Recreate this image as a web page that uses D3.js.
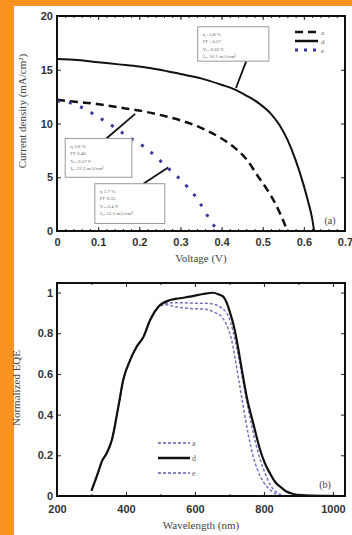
<!DOCTYPE html>
<html>
<head>
<meta charset="utf-8">
<script src="https://cdn.jsdelivr.net/npm/d3@7"></script>
<style>
  body { margin: 0; background: #f7931e; }
  svg { display: block; }
  .tick text { font-family: "Liberation Sans", Arial, sans-serif; font-weight: bold; font-size: 11px; fill: #333; }
  .title { font-family: "Liberation Serif", "Times New Roman", serif; font-size: 11px; fill: #444; }
  .note { font-family: "Liberation Serif", serif; font-size: 5px; fill: #666; }
</style>
</head>
<body>
<svg id="chart" width="352" height="535"></svg>
<script>
// panel (a): J-V curves
const vSolid = [0, 0.05, 0.1, 0.15, 0.2, 0.25, 0.3, 0.35, 0.4, 0.43, 0.46, 0.49, 0.52, 0.54, 0.56, 0.58, 0.6, 0.61, 0.62, 0.625];
const jSolid = [16.0, 15.9, 15.7, 15.5, 15.3, 15.0, 14.6, 14.2, 13.6, 13.2, 12.6, 11.9, 10.9, 9.9, 8.5, 6.6, 4.2, 2.8, 1.2, 0];
const vDash = [0, 0.05, 0.1, 0.15, 0.2, 0.25, 0.3, 0.35, 0.4, 0.43, 0.46, 0.49, 0.51, 0.53, 0.545, 0.56];
const jDash = [12.2, 12.0, 11.8, 11.5, 11.2, 10.8, 10.3, 9.6, 8.6, 7.8, 6.7, 5.0, 3.9, 2.6, 1.4, 0];
const vDot = [0, 0.035, 0.07, 0.1, 0.128, 0.156, 0.184, 0.213, 0.241, 0.265, 0.289, 0.317, 0.337, 0.357, 0.374, 0.39];
const jDot = [12.1, 11.9, 11.3, 10.6, 9.95, 9.2, 8.5, 7.8, 6.9, 6.0, 5.2, 4.1, 3.2, 2.0, 0.9, 0.1];
const legendA = ["a", "d", "e"];

// panel (b): normalized EQE
const wSolid = [300, 320, 330, 344, 359, 378, 392, 412, 431, 450, 470, 494, 528, 556, 586, 624, 653, 670, 682, 692, 702, 712, 721, 736, 750, 769, 789, 803, 818, 832, 847, 865, 885, 910, 943, 980, 1020];
const eSolid = [0.026, 0.12, 0.17, 0.21, 0.275, 0.44, 0.57, 0.668, 0.734, 0.78, 0.865, 0.93, 0.963, 0.972, 0.98, 0.993, 0.999, 0.99, 0.98, 0.95, 0.9, 0.84, 0.767, 0.62, 0.488, 0.357, 0.226, 0.16, 0.11, 0.07, 0.046, 0.022, 0.01, 0.004, 0.002, 0.001, 0];
const wA = [300, 320, 330, 344, 359, 378, 392, 412, 431, 450, 470, 494, 520, 556, 595, 634, 660, 680, 692, 702, 716, 728, 740, 752, 764, 776, 790, 805, 820, 835, 850, 866];
const eA = [0.026, 0.12, 0.17, 0.21, 0.275, 0.44, 0.57, 0.668, 0.734, 0.78, 0.865, 0.93, 0.948, 0.95, 0.948, 0.947, 0.94, 0.92, 0.9, 0.86, 0.77, 0.67, 0.56, 0.45, 0.35, 0.26, 0.175, 0.105, 0.05, 0.02, 0.006, 0];
const wE = [300, 320, 330, 344, 359, 378, 392, 412, 431, 450, 470, 494, 515, 545, 586, 634, 660, 673, 687, 697, 706, 716, 726, 736, 746, 756, 768, 782, 798, 815, 832, 850];
const eE = [0.026, 0.12, 0.17, 0.21, 0.275, 0.44, 0.57, 0.668, 0.734, 0.78, 0.865, 0.93, 0.94, 0.93, 0.922, 0.917, 0.9, 0.889, 0.857, 0.82, 0.77, 0.68, 0.58, 0.48, 0.38, 0.29, 0.2, 0.125, 0.07, 0.035, 0.012, 0];
const legendB = ["a", "d", "e"];

const notes = [
  { lines: ["\u03b7 : 5.8 %", "FF : 0.57", "V\u2092\u2092 0.63 V", "J\u209b\u2092 16.1 mA/cm\u00b2"], box: [0.342, 19.0, 0.515, 15.8], from: [0.46, 15.8], to: [0.435, 13.3] },
  { lines: ["\u03b7 3.8 %", "FF 0.46", "V\u2092\u2092 0.57 V", "J\u209b\u2092 12.2 mA/cm\u00b2"], box: [0.02, 8.6, 0.182, 5.0], from: [0.12, 8.6], to: [0.19, 10.9] },
  { lines: ["\u03b7  1.7 %", "FF  0.35", "V\u2092\u2092 0.4 V", "J\u209b\u2092 12.1 mA/cm\u00b2"], box: [0.092, 4.4, 0.262, 0.7], from: [0.21, 4.4], to: [0.27, 5.9] }
];

const svg = d3.select("#chart");
const blue = "#5c5cb0";

svg.append("rect").attr("width", 352).attr("height", 535).attr("fill", "#f7931e");
svg.append("rect").attr("x", 14).attr("y", 6).attr("width", 338).attr("height", 529).attr("fill", "#fff");

function frame(g, x, y, xTicks, yTicks, xFmt, yFmt, xMinor, pad) {
  const [x0, x1] = x.range(), [y0, y1] = y.range();
  g.append("g").attr("transform", `translate(0,${y0})`)
    .call(d3.axisBottom(x).tickValues(xMinor).tickSize(-2).tickFormat(""));
  g.append("g").attr("transform", `translate(0,${y1})`)
    .call(d3.axisTop(x).tickValues(xMinor).tickSize(-2).tickFormat(""));
  g.append("g").attr("transform", `translate(0,${y0})`)
    .call(d3.axisBottom(x).tickValues(xTicks).tickSize(-4).tickPadding(pad).tickFormat(xFmt));
  g.append("g").attr("transform", `translate(0,${y1})`)
    .call(d3.axisTop(x).tickValues(xTicks).tickSize(-4).tickFormat(""));
  g.append("g").attr("transform", `translate(${x0},0)`)
    .call(d3.axisLeft(y).tickValues(yTicks).tickSize(-4).tickPadding(4).tickFormat(yFmt));
  g.append("g").attr("transform", `translate(${x1},0)`)
    .call(d3.axisRight(y).tickValues(yTicks).tickSize(-4).tickFormat(""));
  g.selectAll(".domain").remove();
  g.selectAll(".tick line").attr("stroke", "#222");
  g.append("rect").attr("x", x0).attr("y", y1).attr("width", x1 - x0).attr("height", y0 - y1)
    .attr("fill", "none").attr("stroke", "#111").attr("stroke-width", 2);
}

// ---- panel (a)
const xa = d3.scaleLinear().domain([0, 0.7]).range([57, 345]);
const ya = d3.scaleLinear().domain([0, 20]).range([231, 16]);
const ga = svg.append("g");
const lineA = d3.line().x(d => xa(d[0])).y(d => ya(d[1])).curve(d3.curveMonotoneX);

ga.append("path").datum(d3.zip(vSolid, jSolid)).attr("d", lineA)
  .attr("fill", "none").attr("stroke", "#111").attr("stroke-width", 2);
ga.append("path").datum(d3.zip(vDash, jDash)).attr("d", lineA)
  .attr("fill", "none").attr("stroke", "#111").attr("stroke-width", 2.5).attr("stroke-dasharray", "8,5");
ga.append("path").datum(d3.zip(vDot, jDot)).attr("d", lineA)
  .attr("fill", "none").attr("stroke", "#3a3a9a").attr("stroke-width", 3).attr("stroke-dasharray", "3,9");

frame(ga, xa, ya, d3.range(0, 0.71, 0.1), [0, 5, 10, 15, 20],
  d => d === 0 ? "0" : d3.format(".1f")(d), d => d,
  d3.range(0, 0.701, 0.02), 7);

notes.forEach(n => {
  const [a0, b0, a1, b1] = n.box;
  ga.append("line").attr("x1", xa(n.from[0])).attr("y1", ya(n.from[1]))
    .attr("x2", xa(n.to[0])).attr("y2", ya(n.to[1])).attr("stroke", "#111").attr("stroke-width", 1.8);
  ga.append("rect").attr("x", xa(a0)).attr("y", ya(b0)).attr("width", xa(a1) - xa(a0)).attr("height", ya(b1) - ya(b0))
    .attr("fill", "#fff").attr("stroke", "#999").attr("stroke-width", 1);
  n.lines.forEach((t, i) => {
    ga.append("text").attr("class", "note").attr("x", xa(a0) + 5).attr("y", ya(b0) + 9 + i * 7.5).text(t);
  });
});

const legA = ga.append("g");
[["8,5", "#111", 2.5], [null, "#111", 2.5], ["3,6", "#3a3a9a", 3]].forEach((s, i) => {
  const yy = 32 + i * 9;
  legA.append("line").attr("x1", 295).attr("x2", 318).attr("y1", yy).attr("y2", yy)
    .attr("stroke", s[1]).attr("stroke-width", s[2]).attr("stroke-dasharray", s[0]);
  legA.append("text").attr("class", "note").style("font-size", "7px").attr("x", 321).attr("y", yy + 2.5).text(legendA[i]);
});
ga.append("text").attr("class", "title").style("font-size", "10px").attr("x", 330).attr("y", 224).attr("text-anchor", "middle").text("(a)");
ga.append("text").attr("class", "title").attr("x", 201).attr("y", 262).attr("text-anchor", "middle").text("Voltage (V)");
ga.append("text").attr("class", "title").attr("transform", "translate(26,111) rotate(-90)").attr("text-anchor", "middle")
  .text("Current density (mA/cm\u00b2)");

// ---- panel (b)
const xb = d3.scaleLinear().domain([200, 1035]).range([57, 345]);
const yb = d3.scaleLinear().domain([0, 1.047]).range([496, 283]);
const gb = svg.append("g");
const lineB = d3.line().x(d => xb(d[0])).y(d => yb(d[1])).curve(d3.curveMonotoneX);

gb.append("path").datum(d3.zip(wE, eE)).attr("d", lineB)
  .attr("fill", "none").attr("stroke", blue).attr("stroke-width", 1.5).attr("stroke-dasharray", "3,2").attr("opacity", 0.85);
gb.append("path").datum(d3.zip(wA, eA)).attr("d", lineB)
  .attr("fill", "none").attr("stroke", blue).attr("stroke-width", 1.5).attr("stroke-dasharray", "3,2").attr("opacity", 0.85);
gb.append("path").datum(d3.zip(wSolid, eSolid)).attr("d", lineB)
  .attr("fill", "none").attr("stroke", "#111").attr("stroke-width", 2.2);

frame(gb, xb, yb, [200, 400, 600, 800, 1000], [0, 0.2, 0.4, 0.6, 0.8, 1],
  d => d, d => d === 0 || d === 1 ? d : d3.format(".1f")(d),
  d3.range(200, 1035, 100), 9);

const legB = gb.append("g");
[["3,2", blue, 1.3], [null, "#111", 2.5], ["3,2", blue, 1.3]].forEach((s, i) => {
  const yy = 443 + i * 15;
  legB.append("line").attr("x1", 158).attr("x2", 190).attr("y1", yy).attr("y2", yy)
    .attr("stroke", s[1]).attr("stroke-width", s[2]).attr("stroke-dasharray", s[0]);
  legB.append("text").attr("class", "note").style("font-size", "8px").attr("x", 192).attr("y", yy + 3).text(legendB[i]);
});
gb.append("text").attr("class", "title").style("font-size", "10px").attr("x", 325).attr("y", 488).attr("text-anchor", "middle").text("(b)");
gb.append("text").attr("class", "title").attr("x", 201).attr("y", 529).attr("text-anchor", "middle").text("Wavelength (nm)");
gb.append("text").attr("class", "title").attr("transform", "translate(20,388) rotate(-90)").attr("text-anchor", "middle")
  .text("Normalized EQE");
</script>
</body>
</html>
